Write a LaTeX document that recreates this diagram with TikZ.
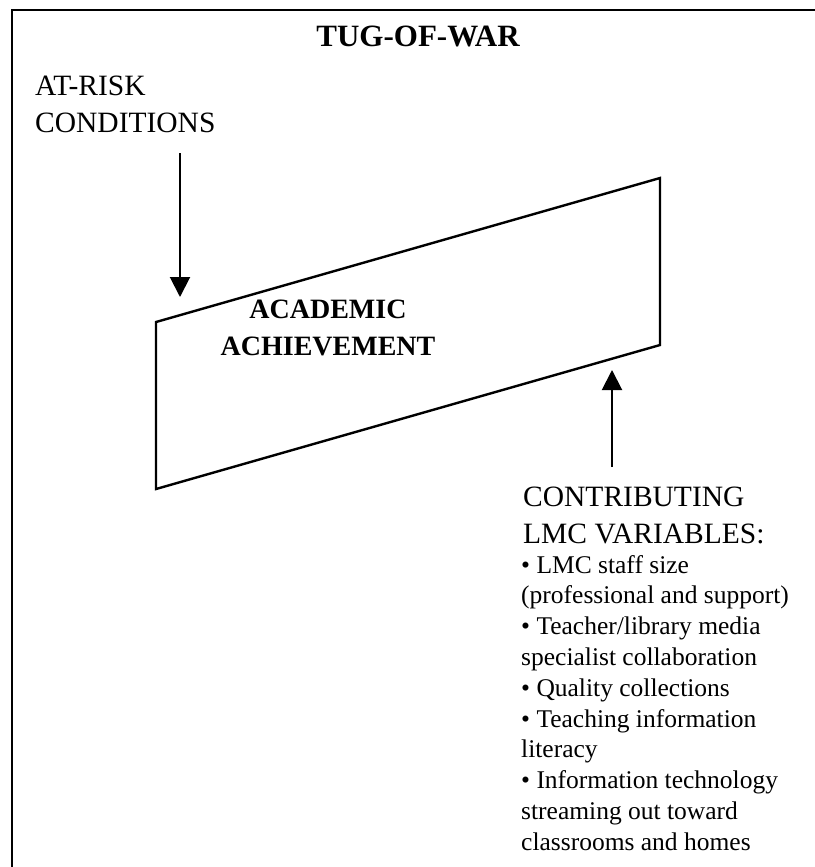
\documentclass[tikz,border=0pt]{standalone}
\usepackage{fontspec}
\setmainfont{Liberation Serif}
\usetikzlibrary{arrows.meta}
\begin{document}
\begin{tikzpicture}[x=1pt,y=-1pt,
  frameline/.style={line width=2pt},
  edgeline/.style={line width=2.4pt, line join=miter},
  pull/.style={line width=2pt, -{Triangle[width=20pt,length=20pt]}},
  heading/.style={font=\bfseries\fontsize{31}{37}\selectfont, inner sep=0pt, anchor=base},
  centre/.style={font=\bfseries\fontsize{28}{36}\selectfont, inner sep=0pt, anchor=base},
  label/.style={font=\fontsize{29.5}{37}\selectfont, inner sep=0pt, anchor=base west},
  item/.style={font=\fontsize{25.5}{31}\selectfont, inner sep=0pt, anchor=base west}]
\useasboundingbox (0,0) rectangle (814,867);
% outer frame (runs past the page on the right and at the bottom)
\draw[frameline] (12,10) rectangle (840,890);
% title
\node[heading] (title) at (418,47) {TUG-OF-WAR};
% at-risk label and its arrow
\node[label] (risk1) at (35,95) {AT-RISK};
\node[label] (risk2) at (35,132) {CONDITIONS};
\coordinate (riskstart) at (180,153);
\coordinate (risktip) at (180,297);
\draw[pull] (riskstart) -- (risktip);
% slanted achievement panel
\coordinate (p1) at (156,322);
\coordinate (p2) at (660,178);
\coordinate (p3) at (660,345);
\coordinate (p4) at (156,489);
\draw[edgeline] (p1) -- (p2) -- (p3) -- (p4) -- cycle;
\node[centre] (ach1) at (328,318) {ACADEMIC};
\node[centre] (ach2) at (328,355) {ACHIEVEMENT};
% contributing arrow and label
\coordinate (lmcstart) at (612,467);
\coordinate (lmctip) at (612,370);
\draw[pull] (lmcstart) -- (lmctip);
\node[label] (lmc1) at (523,506) {CONTRIBUTING};
\node[label] (lmc2) at (523,543) {LMC VARIABLES:};
\foreach \t [count=\i] in {{\textbullet{} LMC staff size},
  {(professional and support)},
  {\textbullet{} Teacher/library media},
  {specialist collaboration},
  {\textbullet{} Quality collections},
  {\textbullet{} Teaching information},
  {literacy},
  {\textbullet{} Information technology},
  {streaming out toward},
  {classrooms and homes}}
  \node[item] (var\i) at (521,{573+30.8*(\i-1)}) {\t};
\end{tikzpicture}
\end{document}
